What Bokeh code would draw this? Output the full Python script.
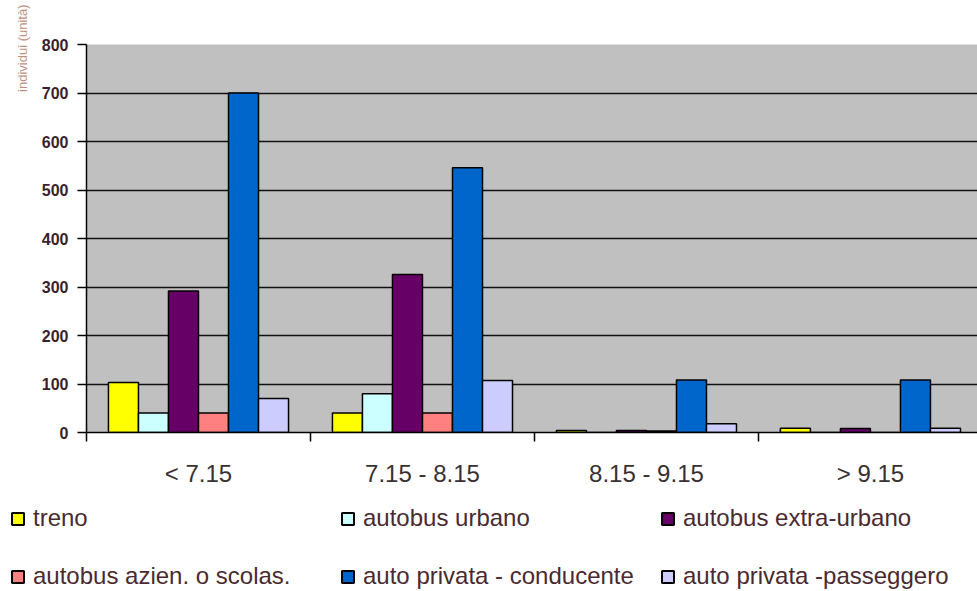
from bokeh.embed import file_html
from bokeh.resources import INLINE
from bokeh.plotting import figure
from bokeh.layouts import column
from bokeh.models import (Range1d, FixedTicker, Legend, LegendItem, Title,
                          ColumnDataSource)

# Time slots (groups) and transport modes (series)
fasce = ["< 7.15", "7.15 - 8.15", "8.15 - 9.15", "> 9.15"]
modi = ["treno", "autobus urbano", "autobus extra-urbano",
        "autobus azien. o scolas.", "auto privata - conducente",
        "auto privata -passeggero"]

treno = [103, 40, 4, 9]
autobus_urbano = [40, 80, 0, 0]
autobus_extra = [292, 326, 4, 8]
autobus_azien = [40, 40, 3, 0]
auto_conducente = [700, 546, 108, 108]
auto_passeggero = [70, 107, 18, 9]

serie = [treno, autobus_urbano, autobus_extra, autobus_azien,
         auto_conducente, auto_passeggero]
colori = ["#ffff00", "#ccffff", "#660066", "#ff8080", "#0066cc", "#ccccff"]

y_ticks = list(range(0, 801, 100))

FONT = "Liberation Sans"

p = figure(width=977, height=495, output_backend="svg", toolbar_location=None,
           x_range=Range1d(0, 3.978), y_range=Range1d(0, 800),
           min_border_left=86, min_border_right=0, min_border_top=44,
           min_border_bottom=63)
p.frame_align = False

p.background_fill_color = "#c0c0c0"
p.border_fill_color = "white"
p.outline_line_color = None

bar_w = 0.134
sources = []
for i, (vals, col) in enumerate(zip(serie, colori)):
    xs = [g + 0.5 + (i - 2.5) * bar_w for g in range(len(fasce))]
    src = ColumnDataSource(dict(x=xs, top=vals))
    sources.append(src)
    p.vbar(x="x", top="top", width=bar_w, bottom=0, source=src,
           fill_color=col, line_color="black", line_width=1.5)

# grid
p.xgrid.grid_line_color = None
p.ygrid.grid_line_color = "#111111"
p.ygrid.grid_line_width = 1.5
p.ygrid.ticker = FixedTicker(ticks=y_ticks)

# y axis
p.yaxis.ticker = FixedTicker(ticks=y_ticks)
p.yaxis.axis_line_color = "black"
p.yaxis.axis_line_width = 1.5
p.yaxis.major_tick_line_color = "black"
p.yaxis.major_tick_line_width = 1.5
p.yaxis.major_tick_in = 0
p.yaxis.major_tick_out = 9
p.yaxis.minor_tick_line_color = None
p.yaxis.major_label_standoff = 9
p.yaxis.major_label_text_font = FONT
p.yaxis.major_label_text_font_style = "bold"
p.yaxis.major_label_text_font_size = "16px"
p.yaxis.major_label_text_color = "#3a1f2c"

# x axis: labels at group centres, ticks at group boundaries
p.xaxis.ticker = FixedTicker(ticks=[g + 0.5 for g in range(len(fasce))],
                             minor_ticks=list(range(len(fasce) + 1)))
p.xaxis.major_label_overrides = {g + 0.5: f for g, f in enumerate(fasce)}
p.xaxis.axis_line_color = "black"
p.xaxis.axis_line_width = 1.5
p.xaxis.major_tick_line_color = None
p.xaxis.major_tick_out = 0
p.xaxis.major_tick_in = 0
p.xaxis.minor_tick_line_color = "black"
p.xaxis.minor_tick_line_width = 1.5
p.xaxis.minor_tick_in = 0
p.xaxis.minor_tick_out = 9
p.xaxis.major_label_standoff = 18
p.xaxis.major_label_text_font = FONT
p.xaxis.major_label_text_font_size = "24px"
p.xaxis.major_label_text_color = "#3a3030"

# y axis title at the top of the left border
p.add_layout(Title(text="individui (unità)", align="right", offset=-40,
                   text_font=FONT, text_font_size="13px",
                   text_font_style="normal", text_color="#c0907e",
                   standoff=18), "left")

# legend strip: three columns, two rows, drawn from hidden copies of the bars
lg = figure(width=977, height=96, output_backend="svg", toolbar_location=None,
            x_range=Range1d(0, 1), y_range=Range1d(0, 1),
            min_border=0, x_axis_location=None, y_axis_location=None)
lg.frame_align = False
lg.outline_line_color = None
lg.grid.grid_line_color = None

hidden = []
for src, col in zip(sources, colori):
    r = lg.vbar(x="x", top="top", width=bar_w, bottom=0, source=src,
                fill_color=col, line_color="black", line_width=2)
    r.visible = False
    hidden.append(r)

col_x = [10, 340, 660]
for c in range(3):
    items = [LegendItem(label=modi[c], renderers=[hidden[c]]),
             LegendItem(label=modi[c + 3], renderers=[hidden[c + 3]])]
    leg = Legend(items=items, location=(col_x[c], 1),
                 orientation="vertical", background_fill_alpha=0,
                 border_line_color=None, glyph_width=15, glyph_height=15,
                 label_height=24, spacing=30, padding=0, margin=0,
                 label_standoff=8, label_text_font=FONT,
                 label_text_font_size="24px", label_text_color="#4a2a30")
    lg.add_layout(leg, "center")

open("out.html", "w").write(file_html(column(p, lg, spacing=0), INLINE))
